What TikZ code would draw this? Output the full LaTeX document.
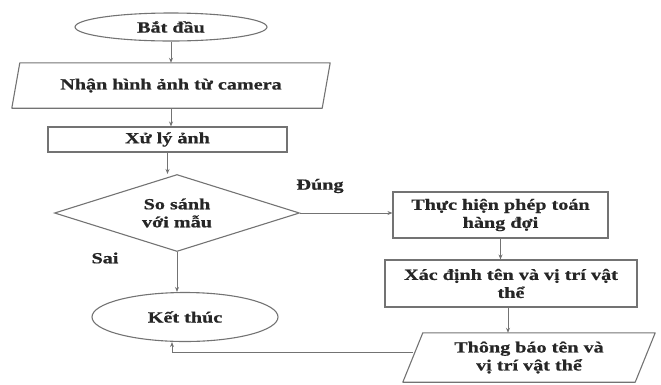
\documentclass[tikz,border=0pt]{standalone}
\usepackage{fontspec}
\setmainfont{Liberation Serif}[FakeStretch=1.3, BoldFont={Liberation Serif Bold},
    BoldFeatures={FakeBold=0.8}]
\usetikzlibrary{shapes.geometric,arrows.meta}

\begin{document}
\begin{tikzpicture}[x=1pt,y=-1pt,
    txt/.style={inner sep=0pt, align=center, text=black!85,
        font=\fontsize{15.5}{18}\selectfont\bfseries},
    box/.style={txt, draw=black!55, line width=1.1pt},
    edge/.style={draw=black!55, line width=1.1pt, line join=round},
    arr/.style={draw=black!55, line width=1pt, -{Stealth[length=5pt,width=4pt]}}]
\useasboundingbox (0,0) rectangle (661,384);
\node[box, ellipse, minimum width=192, minimum height=28] (start) at (171,27) {Bắt đầu};
\node[txt, minimum width=310, minimum height=45] (recv) at (171,85.5) {Nhận hình ảnh từ camera};
\draw[edge] ([xshift=4]recv.north west) -- ([xshift=4]recv.north east)
    -- ([xshift=-4]recv.south east) -- ([xshift=-4]recv.south west) -- cycle;
\node[box, minimum width=239, minimum height=25] (proc) at (167.5,139.5) {Xử lý ảnh};
\node[box, diamond, aspect=3.18, minimum width=245, minimum height=77] (cmp) at (177,213) {So sánh\\với mẫu};
\node[box, ellipse, minimum width=186, minimum height=49] (stop) at (185,317) {Kết thúc};
\node[box, minimum width=215, minimum height=46] (queue) at (500.5,215) {Thực hiện phép toán\\hàng đợi};
\node[box, minimum width=252, minimum height=47] (locate) at (511,283.5) {Xác định tên và vị trí vật\\thể};
\node[txt, minimum width=232, minimum height=49] (notify) at (529,357.5) {Thông báo tên và\\vị trí vật thể};
\draw[edge] ([xshift=10]notify.north west) -- ([xshift=10]notify.north east)
    -- ([xshift=-10]notify.south east) -- ([xshift=-10]notify.south west) -- cycle;
\node[txt] (yes) at (320,186) {Đúng};
\node[txt] (no) at (105,258) {Sai};
\draw[arr] (start.south) -- (start.south |- recv.north);
\draw[arr] (recv.south) -- (recv.south |- proc.north);
\draw[arr] (proc.south) -- (proc.south |- cmp.north);
\draw[arr] (cmp.south) -- (cmp.south |- stop.north);
\draw[arr] (cmp.east) -- (cmp.east -| queue.west);
\draw[arr] (queue.south) -- (queue.south |- locate.north);
\draw[arr] ([xshift=-3]locate.south) -- ([xshift=-3]locate.south |- notify.north);
\draw[arr] ([yshift=5]notify.west) -| ([xshift=-13]stop.south);
\end{tikzpicture}
\end{document}
